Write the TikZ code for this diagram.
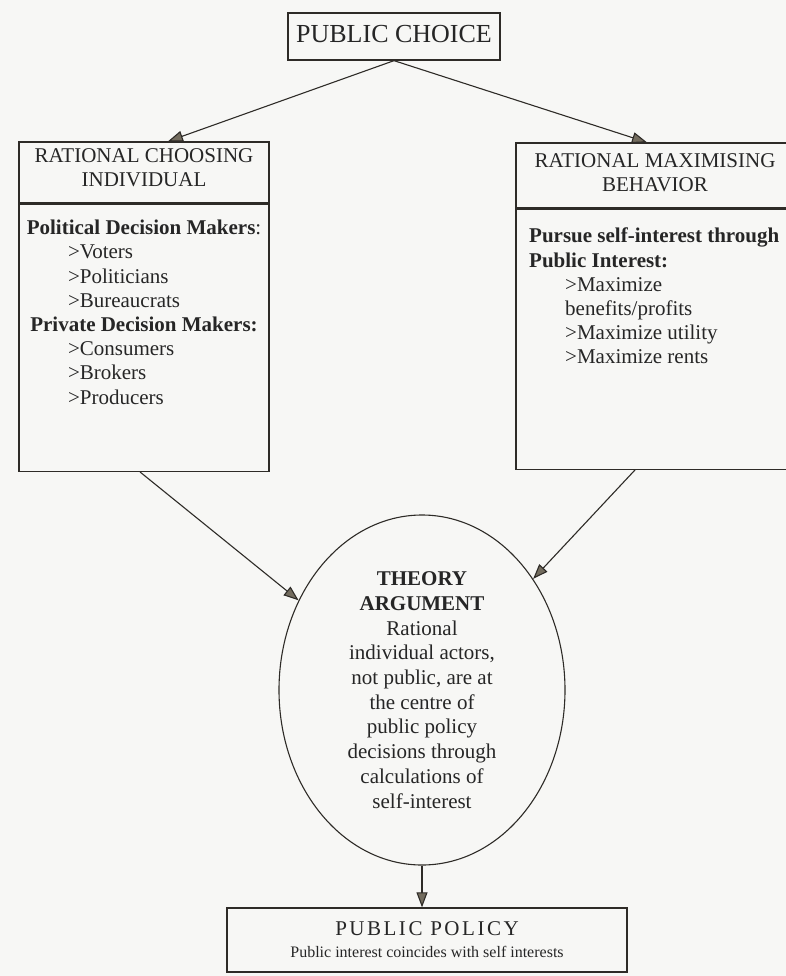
\documentclass[tikz,border=0pt]{standalone}
\usepackage{fontspec}
\setmainfont{Liberation Serif}
\usetikzlibrary{arrows.meta,positioning,shapes.geometric,calc}
\definecolor{ink}{HTML}{2E2B27}
\definecolor{tipfill}{HTML}{736C5E}
\definecolor{paper}{HTML}{F7F7F5}
\definecolor{txt}{HTML}{262626}
\tikzset{
  hdr/.style  ={draw=ink,line width=1.3pt,inner sep=0pt,align=center,
                font=\fontsize{21}{24}\selectfont,text=txt},
  panel/.style={draw=ink,line width=1.3pt,inner sep=0pt},
  body/.style ={inner sep=0pt,align=left,anchor=north west,
                font=\fontsize{21}{24.2}\selectfont,text=txt},
  oval/.style ={ellipse,draw=ink,line width=1.1pt,inner sep=0pt,align=center,
                minimum width=286pt,minimum height=350pt,
                font=\fontsize{21}{24.7}\selectfont,text=txt},
  link/.style ={-{Triangle[length=15pt,width=11pt,fill=tipfill]},line width=1.1pt,draw=ink}
}
\newcommand{\itm}[1]{\makebox[152pt][l]{>#1}}

\begin{document}
\begin{tikzpicture}[x=1pt,y=-1pt]
    \useasboundingbox[fill=paper] (0,0) rectangle (786,976);
    \clip (0,0) rectangle (786,976);
    % top of the tree
    \node[hdr,minimum width=212pt,minimum height=47pt,text depth=5pt,font=\fontsize{26}{30}\selectfont] (pc) at (394,36.5) {PUBLIC CHOICE};
    % left branch
    \node[hdr,minimum width=250pt,minimum height=61pt,text depth=10pt] (lt) at (144,172.5) {RATIONAL CHOOSING\\INDIVIDUAL};
    \node[panel,minimum width=250pt,minimum height=267pt,below=0pt of lt] (lb) {};
    \node[body,align=center,anchor=north] (lbtxt) at (144,220) {\textbf{Political Decision Makers}:\\
      \itm{Voters}\\ \itm{Politicians}\\ \itm{Bureaucrats}\\
      \textbf{Private Decision Makers:}\\
      \itm{Consumers}\\ \itm{Brokers}\\ \itm{Producers}};
    % right branch
    \node[hdr,minimum width=278pt,minimum height=65pt,text depth=6pt] (rt) at (655,175.5) {RATIONAL MAXIMISING\\BEHAVIOR};
    \node[panel,minimum width=278pt,minimum height=260pt,below=0pt of rt] (rb) {};
    \node[body] (rbtxt) at (529,228) {\textbf{Pursue self-interest through}\\
      \textbf{Public Interest:}\\
      \hspace*{36pt}>Maximize\\ \hspace*{36pt}benefits/profits\\
      \hspace*{36pt}>Maximize utility\\ \hspace*{36pt}>Maximize rents};
    % argument and result
    \node[oval] (th) at (422,690) {\textbf{THEORY}\\\textbf{ARGUMENT}\\Rational\\individual actors,\\
      not public, are at\\the centre of\\public policy\\decisions through\\calculations of\\self-interest};
    \node[hdr,minimum width=400pt,minimum height=64pt] (pp) at (427,940)
      {{\addfontfeature{LetterSpace=12}PUBLIC POLICY}\\[-2pt]{\fontsize{16}{18}\selectfont Public interest coincides with self interests}};
    \draw[link] (pc.south) -- ([xshift=24pt]lt.north);
    \draw[link] (pc.south) -- ([xshift=-8pt]rt.north);
    \draw[link] ([xshift=-4pt]lb.south) -- (th.144);
    \draw[link] ([xshift=-20pt]rb.south) -- (th.45);
    \draw[link] (th.south) -- (th.south |- pp.north);
\end{tikzpicture}
\end{document}
